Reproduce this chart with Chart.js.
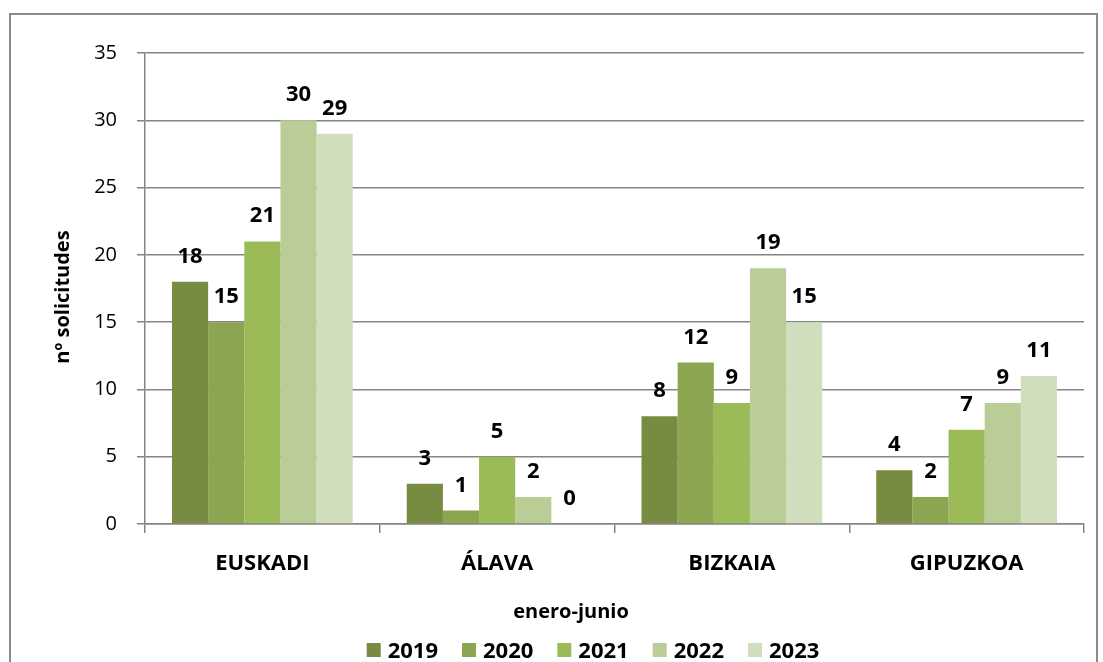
<!DOCTYPE html>
<html lang="es">
<head>
<meta charset="utf-8">
<title>Solicitudes enero-junio</title>
<script src="https://cdn.jsdelivr.net/npm/chart.js@4.4.1/dist/chart.umd.min.js"></script>
<style>
    html, body { margin: 0; padding: 0; background: #ffffff; }
    #wrap { position: relative; width: 1103px; height: 662px; overflow: hidden; }
    #marco {
        position: absolute; left: 9px; top: 13px; width: 1089px; height: 700px;
        border: 2px solid #8a8a8a; box-sizing: border-box;
    }
    #grafico { position: absolute; left: 0; top: 0; }
</style>
</head>
<body>
<div id="wrap">
    <div id="marco"></div>
    <canvas id="grafico" width="1103" height="662"></canvas>
</div>
<script>
// Datos del gráfico
const territorios = ["EUSKADI", "ÁLAVA", "BIZKAIA", "GIPUZKOA"];
const anios = ["2019", "2020", "2021", "2022", "2023"];
const datos2019 = [18, 3, 8, 4];
const datos2020 = [15, 1, 12, 2];
const datos2021 = [21, 5, 9, 7];
const datos2022 = [30, 2, 19, 9];
const datos2023 = [29, 0, 15, 11];
const colores = ["#778b41", "#8ba550", "#9bbb59", "#bbcd97", "#d1debe"];
const ticksY = [0, 5, 10, 15, 20, 25, 30, 35];

const tituloX = "enero-junio";
const tituloY = "nº solicitudes";
const fuente = "'Open Sans', 'DejaVu Sans', sans-serif";
const gris = "#858585";

const series = [datos2019, datos2020, datos2021, datos2022, datos2023];

// Etiquetas de valor, títulos de ejes y leyenda
const extras = {
    id: "extras",
    afterDatasetsDraw(chart) {
        const ctx = chart.ctx;
        ctx.save();
        ctx.fillStyle = "#000";
        ctx.font = "bold 22px " + fuente;
        ctx.textAlign = "center";
        ctx.textBaseline = "alphabetic";
        chart.data.datasets.forEach((ds, i) => {
            chart.getDatasetMeta(i).data.forEach((bar, j) => {
                ctx.fillText(String(ds.data[j]), bar.x, bar.y - 19);
            });
        });

        // título eje X
        ctx.font = "bold 20px " + fuente;
        ctx.fillText(tituloX, 571, 618);

        // título eje Y
        ctx.save();
        ctx.translate(69, 297);
        ctx.rotate(-Math.PI / 2);
        ctx.fillText(tituloY, 0, 0);
        ctx.restore();

        // leyenda
        ctx.font = "bold 22px " + fuente;
        ctx.textAlign = "left";
        const caja = 14, hueco = 7, sep = 24;
        const anchos = anios.map(a => caja + hueco + ctx.measureText(a).width);
        const total = anchos.reduce((s, w) => s + w, 0) + sep * (anios.length - 1);
        let x = 593 - total / 2;
        anios.forEach((a, i) => {
            ctx.fillStyle = colores[i];
            ctx.fillRect(x, 643, caja, caja);
            ctx.fillStyle = "#000";
            ctx.fillText(a, x + caja + hueco, 658);
            x += anchos[i] + sep;
        });
        ctx.restore();
    }
};

const ctx = document.getElementById("grafico").getContext("2d");
new Chart(ctx, {
    type: "bar",
    data: {
        labels: territorios,
        datasets: anios.map((a, i) => ({
            label: a,
            data: series[i],
            backgroundColor: colores[i],
            borderWidth: 0,
            categoryPercentage: 0.77,
            barPercentage: 1.0
        }))
    },
    options: {
        responsive: false,
        animation: false,
        layout: { padding: { top: 53, right: 19, left: 0, bottom: 0 } },
        plugins: {
            legend: { display: false },
            tooltip: { enabled: false }
        },
        scales: {
            x: {
                afterFit: (scale) => { scale.height = 138; },
                grid: {
                    drawOnChartArea: false,
                    tickLength: 9,
                    color: gris,
                    lineWidth: 1.5
                },
                border: { color: gris, width: 1.5 },
                ticks: {
                    color: "#000",
                    padding: 18,
                    font: { family: fuente, size: 22, weight: "bold" }
                }
            },
            y: {
                min: 0,
                max: 35,
                afterFit: (scale) => { scale.width = 145; },
                afterBuildTicks: (scale) => { scale.ticks = ticksY.map(v => ({ value: v })); },
                grid: { color: gris, lineWidth: 1.5, tickLength: 8 },
                border: { color: gris, width: 1.5 },
                ticks: {
                    color: "#000",
                    padding: 20,
                    font: { family: fuente, size: 20 }
                }
            }
        }
    },
    plugins: [extras]
});
</script>
</body>
</html>
